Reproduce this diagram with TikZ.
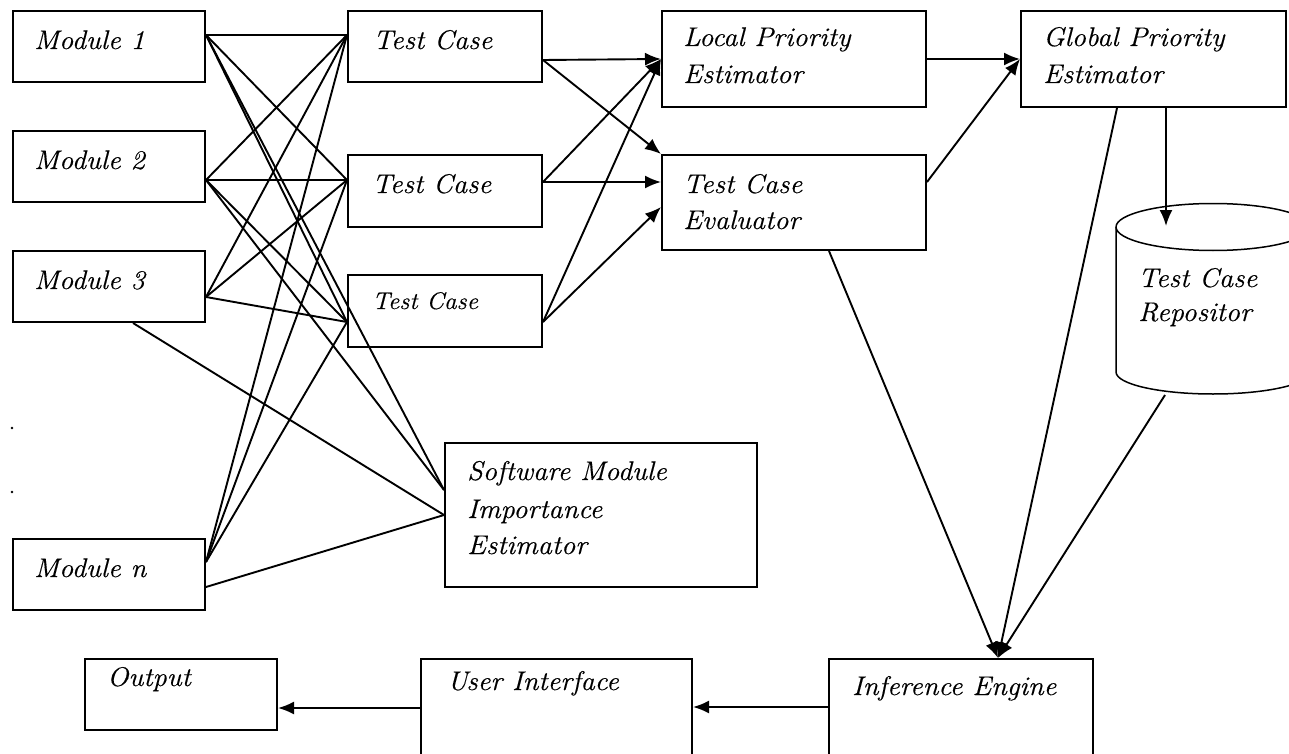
\documentclass[tikz,border=0pt]{standalone}
\usepackage{fontspec}
\newfontfamily\dfont{Latin Modern Roman}[FakeStretch=1.05,FakeBold=0.4]
\usetikzlibrary{arrows.meta,calc}
\begin{document}
\begin{tikzpicture}[x=1pt,y=-1pt,
  box/.style={draw,line width=2pt,rectangle,inner sep=0pt},
  lbl/.style={anchor=base west,inner sep=0pt,font=\dfont\itshape\fontsize{27}{32}\selectfont},
  slbl/.style={lbl,font=\dfont\itshape\fontsize{24}{28}\selectfont},
  ln/.style={line width=1.9pt},
  arr/.style={line width=1.9pt,-{Latex[length=16pt,width=13pt]}}]
\useasboundingbox (0,0) rectangle (1289,754);
\clip (0,0) rectangle (1289,754);
% modules
\node[box,minimum width=192pt,minimum height=71pt] (m1) at (109,46.5) {};
\node[box,minimum width=192pt,minimum height=71pt] (m2) at (109,166.5) {};
\node[box,minimum width=192pt,minimum height=71pt] (m3) at (109,286.5) {};
\node[box,minimum width=192pt,minimum height=71pt] (mn) at (109,574.5) {};
\node[lbl] (m1t) at (34,49) {Module 1};
\node[lbl] (m2t) at (34,169) {Module 2};
\node[lbl] (m3t) at (34,289) {Module 3};
\node[lbl] (mnt) at (34,577) {Module n};
\fill (12,428) circle (1.4);
\fill (12,492) circle (1.4);
% test cases
\node[box,minimum width=194pt,minimum height=71pt] (tc1) at (445,46.5) {};
\node[box,minimum width=194pt,minimum height=72pt] (tc2) at (445,191) {};
\node[box,minimum width=194pt,minimum height=72pt] (tc3) at (445,311) {};
\node[lbl] (tc1t) at (373,49) {Test Case};
\node[lbl] (tc2t) at (372,193) {Test Case};
\node[slbl] (tc3t) at (372,309) {Test Case};
% estimators
\node[box,minimum width=264pt,minimum height=96pt] (lpe) at (794,59) {};
\node[box,minimum width=264pt,minimum height=95pt] (tce) at (794,202.5) {};
\node[box,minimum width=265pt,minimum height=96pt] (gpe) at (1153.5,59) {};
\node[lbl] (lpet1) at (683,46) {Local Priority};
\node[lbl] (lpet2) at (683,83) {Estimator};
\node[lbl] (tcet1) at (683,193) {Test Case};
\node[lbl] (tcet2) at (683,229) {Evaluator};
\node[lbl] (gpet1) at (1043,46) {Global Priority};
\node[lbl] (gpet2) at (1043,83) {Estimator};
\node[box,minimum width=312pt,minimum height=144pt] (smie) at (601,515) {};
\node[lbl] (smiet1) at (467,480) {Software Module};
\node[lbl] (smiet2) at (467,518) {Importance};
\node[lbl] (smiet3) at (467,554) {Estimator};
% repository cylinder
\draw[line width=1.5pt] (1213,227) ellipse [x radius=97, y radius=23.5];
\draw[line width=1.5pt] (1116,227) -- (1116,372) arc[start angle=180,end angle=0,x radius=97,y radius=22] -- (1310,227);
\coordinate (cyltop) at (1166,226);
\coordinate (cylbot) at (1165,395);
\node[lbl] (cylt1) at (1138,287) {Test Case};
\node[lbl] (cylt2) at (1138,321) {Repositor};
% bottom row
\node[box,minimum width=192pt,minimum height=71pt] (out) at (181,694.5) {};
\node[box,minimum width=271pt,minimum height=121pt] (ui) at (556.5,719.5) {};
\node[box,minimum width=264pt,minimum height=121pt] (ie) at (961,719.5) {};
\node[lbl] (outt) at (107,686) {Output};
\node[lbl] (uit) at (447,690) {User Interface};
\node[lbl] (iet) at (852,695) {Inference Engine};
% module -> test case / importance estimator
\coordinate (m1r) at ([yshift=11.5pt]m1.east);
\coordinate (m2r) at ([yshift=-13.5pt]m2.east);
\coordinate (m3r) at ([yshift=-10.5pt]m3.east);
\coordinate (m3b) at ([xshift=24pt]m3.south);
\coordinate (mnr1) at ([yshift=12.5pt]mn.east);
\coordinate (mnr2) at ([yshift=-12.5pt]mn.east);
\coordinate (tc1l) at ([yshift=11.5pt]tc1.west);
\coordinate (tc2l) at ([yshift=11pt]tc2.west);
\coordinate (tc3l) at ([yshift=-11pt]tc3.west);
\coordinate (smiel1) at ([yshift=25pt]smie.west);
\coordinate (smiel2) at (smie.west);
\draw[ln] (m1r) -- (tc1l);
\draw[ln] (m1r) -- (tc2l);
\draw[ln] (m1r) -- (tc3l);
\draw[ln] (m1r) -- (smiel1);
\draw[ln] (m2r) -- (tc1l);
\draw[ln] (m2r) -- (tc2l);
\draw[ln] (m2r) -- (tc3l);
\draw[ln] (m2r) -- (smiel1);
\draw[ln] (m3r) -- (tc1l);
\draw[ln] (m3r) -- (tc2l);
\draw[ln] (m3r) -- (tc3l);
\draw[ln] (m3b) -- (smiel2);
\draw[ln] (mnr1) -- (tc1l);
\draw[ln] (mnr1) -- (tc2l);
\draw[ln] (mnr1) -- (tc3l);
\draw[ln] (mnr2) -- (smiel2);
% test case -> estimators
\coordinate (tc1r) at ([yshift=-13.5pt]tc1.east);
\coordinate (tc2r) at ([yshift=9pt]tc2.east);
\coordinate (tc3r) at ([yshift=-11pt]tc3.east);
\coordinate (tcel1) at ([yshift=20.5pt]tce.west);
\coordinate (tcel2) at ([yshift=-4.5pt]tce.west);
\draw[arr] (tc1r) -- (lpe.west);
\draw[arr] (tc1r) -- (tce.north west);
\draw[arr] (tc2r) -- (lpe.west);
\draw[arr] (tc2r) -- (tcel1);
\draw[arr] (tc3r) -- (lpe.west);
\draw[arr] (tc3r) -- (tcel2);
\draw[arr] (lpe.east) -- (gpe.west);
\draw[arr] ([yshift=20.5pt]tce.east) -- (gpe.west);
\draw[arr] ([xshift=12.5pt]gpe.south) -- (cyltop);
% to inference engine
\coordinate (iein) at ([xshift=37pt]ie.north);
\draw[arr] ([xshift=35pt]tce.south) -- (iein);
\draw[arr] ([xshift=-36.5pt]gpe.south) -- (iein);
\draw[arr] (cylbot) -- (iein);
\draw[arr] ([yshift=12.5pt]ie.west) -- ([yshift=12.5pt]ui.east);
\draw[arr] ([yshift=11.5pt]ui.west) -- ([yshift=-13.5pt]out.east);
\end{tikzpicture}
\end{document}
